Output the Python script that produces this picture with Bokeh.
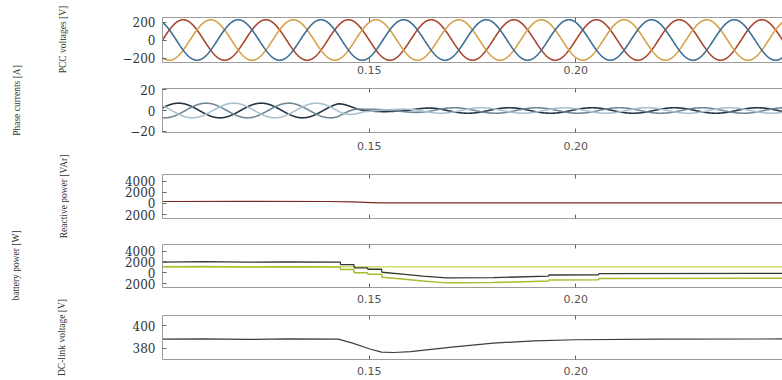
import numpy as np
from bokeh.plotting import figure
from bokeh.layouts import column, row
from bokeh.models import Range1d, FixedTicker, LinearAxis, NumeralTickFormatter
from bokeh.embed import file_html
from bokeh.resources import INLINE

# ---------------- data ----------------
X_START, X_END = 0.100, 0.250
X_TICKS = [0.15, 0.20]

# PCC voltages: three-phase 50 Hz set
PCC_FREQ = 50.0
PCC_AMPL = 225.0
PCC_PHASES_DEG = [0.0, -120.0, 120.0]
PCC_COLORS = ["#a8472f", "#d6a14a", "#3d6e93"]

# Phase currents: amplitude envelope (A) at read time points
CUR_ENV_T = [0.100, 0.1425, 0.1490, 0.1560, 0.1660, 0.2500]
CUR_ENV_A = [7.0, 7.0, 1.2, 1.0, 2.6, 2.6]
CUR_PHASES_DEG = [20.0, -100.0, 140.0]
CUR_COLORS = ["#243443", "#6f8897", "#a9c2ce"]

# Reactive power [VAr]
Q_T = [0.100, 0.120, 0.140, 0.146, 0.152, 0.160, 0.200, 0.250]
Q_V = [350, 380, 350, 300, 120, 100, 110, 100]

# Battery power [W]
BAT_T = [0.100, 0.110, 0.120, 0.130, 0.1430, 0.1431, 0.1463, 0.1464, 0.1496, 0.1497,
         0.1530, 0.1531, 0.158, 0.163, 0.1686, 0.180, 0.1934, 0.1935, 0.2055, 0.2056, 0.250]
BAT_DARK = [1950, 2050, 1950, 2000, 1950, 1500, 1500, 900, 900, 650,
            650, 100, -250, -600, -950, -900, -600, -400, -380, -150, -100]
BAT_LOWER = [1100, 1150, 1050, 1100, 1050, 600, 600, 0, 0, -250,
             -250, -800, -1150, -1500, -1850, -1800, -1500, -1300, -1280, -1050, -1000]
BAT_CONST_T = [0.100, 0.250]
BAT_CONST = [1100, 1100]

# DC-link voltage [V]
VDC_T = [0.100, 0.110, 0.120, 0.130, 0.1425, 0.146, 0.150, 0.153, 0.156, 0.160,
         0.170, 0.180, 0.190, 0.200, 0.220, 0.250]
VDC_V = [388.0, 388.3, 387.8, 388.2, 388.0, 384.5, 379.5, 376.5, 376.2, 377.0,
         381.0, 384.5, 386.5, 387.5, 388.0, 388.2]

# y-axis titles (drawn in a narrow strip on the left)
Y_TITLES = ["PCC voltages [V]", "Phase currents [A]", "Reactive power [VAr]",
            "battery power [W]", "DC-link voltage [V]"]
Y_TITLE_X = [62, 16, 63, 15, 61]
Y_TITLE_Y = [39, 100, 196, 265, 337]

# ---------------- styling helpers ----------------
AXIS_GREY = "#9c9c9c"
TICK_FONT = "DejaVu Serif"
LABEL_FONT = "Liberation Serif"
STRIP_W = 88
PANEL_W = 694
TOTAL_H = 380


def make_panel(height, top, bottom, y_range, yticks, show_x_labels=True,
               x_label_standoff=3, overrides=None):
    p = figure(width=PANEL_W, height=height, x_range=Range1d(X_START, X_END),
               y_range=Range1d(*y_range), output_backend="svg", toolbar_location=None,
               min_border_left=162 - STRIP_W, min_border_right=0, min_border_top=top,
               min_border_bottom=bottom)
    p.grid.visible = False
    p.outline_line_color = None

    xa = p.xaxis[0]
    xa.ticker = FixedTicker(ticks=X_TICKS)
    xa.formatter = NumeralTickFormatter(format="0.00")
    xa.major_tick_in = 4
    xa.major_tick_out = 0
    xa.minor_tick_line_color = None
    xa.axis_line_color = AXIS_GREY
    xa.major_tick_line_color = "#666666"
    xa.major_label_text_font = "DejaVu Sans"
    xa.major_label_text_font_size = "11px"
    xa.major_label_text_color = "#555555"
    xa.major_label_standoff = x_label_standoff
    if not show_x_labels:
        xa.major_label_overrides = {t: "" for t in X_TICKS}

    top_axis = LinearAxis(ticker=FixedTicker(ticks=X_TICKS), major_tick_in=4, major_tick_out=0,
                          minor_tick_line_color=None, axis_line_color=AXIS_GREY,
                          major_tick_line_color="#666666", major_label_standoff=0,
                          major_label_overrides={t: "" for t in X_TICKS})
    p.add_layout(top_axis, "above")

    ya = p.yaxis[0]
    ya.ticker = FixedTicker(ticks=yticks)
    ya.major_tick_in = 4
    ya.major_tick_out = 0
    ya.minor_tick_line_color = None
    ya.axis_line_color = AXIS_GREY
    ya.major_tick_line_color = "#666666"
    ya.major_label_text_font = TICK_FONT
    ya.major_label_text_font_size = "12px"
    ya.major_label_text_color = "#333333"
    ya.major_label_standoff = 7
    if overrides:
        ya.major_label_overrides = overrides
    return p


t = np.linspace(X_START, X_END, 4000)

# Panel 1: PCC voltages
p1 = make_panel(80, 17, 18, (-250, 250), [-200, 0, 200], True, 3)
for ph, col in zip(PCC_PHASES_DEG, PCC_COLORS):
    v = PCC_AMPL * np.sin(2 * np.pi * PCC_FREQ * t + np.deg2rad(ph))
    p1.line(t, v, line_color=col, line_width=1.6)

# Panel 2: phase currents
p2 = make_panel(84, 8, 32, (-21, 21), [-20, 0, 20], True, 9)
env = np.interp(t, CUR_ENV_T, CUR_ENV_A)
for ph, col in zip(CUR_PHASES_DEG, CUR_COLORS):
    i = env * np.sin(2 * np.pi * PCC_FREQ * t + np.deg2rad(ph))
    p2.line(t, i, line_color=col, line_width=1.6)

# Panel 3: reactive power
p3 = make_panel(72, 10, 18, (-2700, 5200), [-2000, 0, 2000, 4000], False, 3,
                overrides={-2000: "2000"})
p3.line(Q_T, Q_V, line_color="#7a2a22", line_width=1.2)

# Panel 4: battery power
p4 = make_panel(70, 8, 19, (-2700, 5200), [-2000, 0, 2000, 4000], True, 7,
                overrides={-2000: "2000"})
p4.line(BAT_CONST_T, BAT_CONST, line_color="#d6dc6a", line_width=1.5)
p4.line(BAT_T, BAT_LOWER, line_color="#a9bc2c", line_width=1.5)
p4.line(BAT_T, BAT_DARK, line_color="#2e3a2c", line_width=1.3)

# Panel 5: DC-link voltage
p5 = make_panel(74, 9, 21, (370, 409), [380, 400], True, 7)
p5.line(VDC_T, VDC_V, line_color="#3a3f44", line_width=1.2)

# strip with rotated y-axis titles (page pixel coordinates)
strip = figure(width=STRIP_W, height=TOTAL_H, x_range=Range1d(0, STRIP_W),
               y_range=Range1d(TOTAL_H, 0), output_backend="svg", toolbar_location=None,
               min_border=0, min_border_left=0, min_border_right=0, min_border_top=0,
               min_border_bottom=0)
strip.axis.visible = False
strip.grid.visible = False
strip.outline_line_color = None
strip.text(x=Y_TITLE_X, y=Y_TITLE_Y, text=Y_TITLES, angle=np.pi / 2,
           text_align="center", text_baseline="middle", text_font_size="9.5px",
           text_font={"value": LABEL_FONT}, text_color="#333333")

layout = row(strip, column(p1, p2, p3, p4, p5, spacing=0), spacing=0)
open("out.html", "w").write(file_html(layout, INLINE))
